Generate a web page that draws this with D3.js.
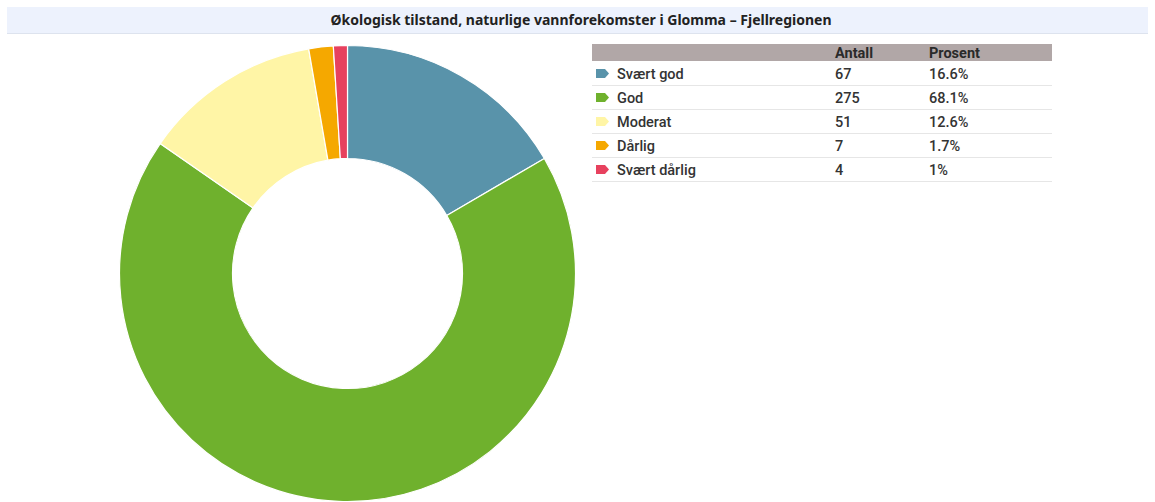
<!DOCTYPE html>
<html>
<head>
<meta charset="utf-8">
<script src="https://cdn.jsdelivr.net/npm/d3@7"></script>
<style>
  body { margin: 0; background: #fff; }
</style>
</head>
<body>
<div id="chart-area"></div>
<script>
const WIDTH = 1155
const HEIGHT = 502

const categories = ["Svært god", "God", "Moderat", "Dårlig", "Svært dårlig"]
const counts = [67, 275, 51, 7, 4]
const percents = ["16.6%", "68.1%", "12.6%", "1.7%", "1%"]
const colors = ["#5993aa", "#6fb12d", "#fff5a6", "#f5a800", "#e7415e"]
const headers = ["", "Antall", "Prosent"]
const title = "Økologisk tilstand, naturlige vannforekomster i Glomma – Fjellregionen"

const svg = d3.select("#chart-area")
    .append("svg")
    .attr("width", WIDTH)
    .attr("height", HEIGHT)

// title bar
svg.append("rect")
    .attr("x", 7).attr("y", 7)
    .attr("width", 1141).attr("height", 26)
    .attr("fill", "#edf2fd")
svg.append("line")
    .attr("x1", 7).attr("x2", 1148)
    .attr("y1", 33.5).attr("y2", 33.5)
    .attr("stroke", "#dde3ee")
svg.append("text")
    .attr("x", 581).attr("y", 25)
    .attr("text-anchor", "middle")
    .style("font-family", "'Noto Sans', sans-serif")
    .style("font-size", "14px")
    .style("font-weight", "bold")
    .attr("fill", "#222")
    .text(title)

// donut
const CX = 347.5, CY = 273.5, R = 228, R0 = 115
const pie = d3.pie().sort(null).value(d => d)
const arc = d3.arc().innerRadius(R0).outerRadius(R)

svg.append("g")
    .attr("transform", `translate(${CX}, ${CY})`)
    .selectAll("path")
    .data(pie(counts))
    .enter()
    .append("path")
    .attr("d", arc)
    .attr("fill", (d, i) => colors[i])
    .attr("stroke", "#fff")
    .attr("stroke-width", 1.2)

// legend table
const T = { X: 592, W: 460, TOP: 44, HEAD: 17, ROW: 24 }
const colX = [617, 835, 929]
const fontFam = "Roboto, sans-serif"

svg.append("rect")
    .attr("x", T.X).attr("y", T.TOP)
    .attr("width", T.W).attr("height", T.HEAD)
    .attr("fill", "#b1a7a7")

svg.selectAll(".hdr")
    .data(headers)
    .enter()
    .append("text")
    .attr("x", (d, i) => colX[i])
    .attr("y", T.TOP + 13.5)
    .style("font-family", fontFam)
    .style("font-size", "14.5px")
    .style("font-weight", "bold")
    .attr("fill", "#2a2a2a")
    .text(d => d)

const rowY = i => T.TOP + T.HEAD + i * T.ROW

const rows = svg.selectAll(".row")
    .data(categories)
    .enter()
    .append("g")
    .attr("transform", (d, i) => `translate(0, ${rowY(i)})`)

rows.append("line")
    .attr("x1", T.X).attr("x2", T.X + T.W)
    .attr("y1", T.ROW + 0.5).attr("y2", T.ROW + 0.5)
    .attr("stroke", "#e6e6e6")

// tag shaped icons
rows.append("path")
    .attr("d", "M596,8 h9 l4,4.5 l-4,4.5 h-9 z")
    .attr("fill", (d, i) => colors[i])

const cellStyle = sel => sel
    .style("font-family", fontFam)
    .style("font-size", "14.5px")
    .style("font-weight", "500")
    .attr("fill", "#333")

rows.append("text").attr("x", colX[0]).attr("y", 17.5).call(cellStyle).text(d => d)
rows.append("text").attr("x", colX[1]).attr("y", 17.5).call(cellStyle).text((d, i) => counts[i])
rows.append("text").attr("x", colX[2]).attr("y", 17.5).call(cellStyle).text((d, i) => percents[i])
</script>
</body>
</html>
